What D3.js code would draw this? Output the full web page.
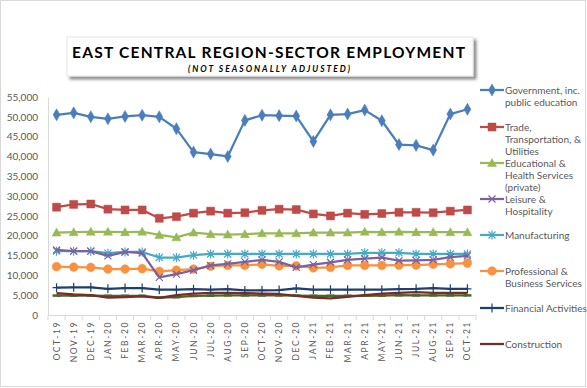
<!DOCTYPE html>
<html>
<head>
<meta charset="utf-8">
<script src="https://cdn.jsdelivr.net/npm/d3@7"></script>
<style>
  body { margin: 0; background: #fff; }
  text { font-family: Lato, "Open Sans", sans-serif; }
</style>
</head>
<body>
<svg id="chart" width="587" height="388"></svg>
<script>
var months = ["OCT-19", "NOV-19", "DEC-19", "JAN-20", "FEB-20", "MAR-20", "APR-20", "MAY-20", "JUN-20",
  "JUL-20", "AUG-20", "SEP-20", "OCT-20", "NOV-20", "DEC-20", "JAN-21", "FEB-21", "MAR-21", "APR-21",
  "MAY-21", "JUN-21", "JUL-21", "AUG-21", "SEP-21", "OCT-21"]

var government = [50500, 51000, 50000, 49500, 50100, 50400, 50000, 47000, 41100, 40600, 40000, 49100, 50400,
  50300, 50200, 43800, 50500, 50700, 51700, 49000, 43000, 42800, 41600, 50700, 51900]
var trade = [27200, 27900, 28000, 26700, 26500, 26500, 24400, 24800, 25700, 26200, 25700, 25800, 26400,
  26700, 26600, 25500, 25000, 25700, 25400, 25600, 25900, 25900, 25800, 26200, 26500]
var education = [20800, 20900, 21000, 21000, 20900, 21000, 20200, 19600, 20800, 20400, 20300, 20400, 20600,
  20600, 20600, 20800, 20800, 20800, 21000, 20900, 21000, 20900, 20900, 20900, 20900]
var leisure = [16400, 16100, 16100, 14900, 15900, 15600, 9500, 10300, 11300, 12500, 12900, 13400, 13900,
  13400, 12000, 12700, 13300, 13900, 14200, 14500, 13700, 13800, 13900, 14600, 14900]
var manufacturing = [16100, 16100, 16100, 15600, 15900, 15900, 14500, 14500, 15100, 15400, 15400, 15400, 15400,
  15400, 15400, 15400, 15400, 15400, 15700, 15700, 15700, 15400, 15400, 15400, 15400]
var professional = [12200, 12100, 12000, 11600, 11600, 11700, 11000, 11300, 11600, 12300, 12500, 12500, 12800,
  12400, 12400, 11900, 12000, 12500, 12500, 12500, 12600, 12600, 12800, 12900, 13100]
var financial = [6900, 7000, 7000, 6600, 6800, 6800, 6400, 6400, 6500, 6400, 6500, 6200, 6200,
  6300, 6700, 6400, 6400, 6400, 6400, 6400, 6500, 6600, 6800, 6600, 6600]
var construction = [5500, 5200, 5000, 4400, 4500, 4700, 4300, 5000, 5400, 5600, 5600, 5500, 5400,
  5300, 4800, 4400, 4200, 4600, 5000, 5400, 5600, 5800, 5600, 5600, 5600]
var other = [4900, 4900, 4900, 4850, 4850, 4850, 4400, 4500, 4800, 4900, 4950, 4950, 4950,
  4950, 4900, 4850, 4850, 4850, 4850, 4900, 5000, 4950, 4950, 4950, 4950]

var yTicks = [0, 5000, 10000, 15000, 20000, 25000, 30000, 35000, 40000, 45000, 50000, 55000]

var series = [
  { name: ["Government, inc.", "public education"], values: government, color: "#4a7ebb", marker: "diamond" },
  { name: ["Trade,", "Transportation, &", "Utilities"], values: trade, color: "#be4b48", marker: "square" },
  { name: ["Educational &", "Health Services", "(private)"], values: education, color: "#98b954", marker: "triangle" },
  { name: ["Leisure &", "Hospitality"], values: leisure, color: "#7d60a0", marker: "x" },
  { name: ["Manufacturing"], values: manufacturing, color: "#46aac5", marker: "star" },
  { name: ["Professional &", "Business Services"], values: professional, color: "#f69240", marker: "circle" },
  { name: ["Financial Activities"], values: financial, color: "#1f3f6e", marker: "plus" },
  { name: ["Construction"], values: construction, color: "#772c2a", marker: "none" },
  { name: null, values: other, color: "#4f6228", marker: "dash" }
]

var svg = d3.select("#chart")

svg.append("rect")
  .attr("x", 0.5).attr("y", 0.5)
  .attr("width", 585).attr("height", 386)
  .attr("fill", "#fff")
  .attr("stroke", "#d9d9d9")

var defs = svg.append("defs")
var shadow = defs.append("filter").attr("id", "shadow")
  .attr("x", "-5%").attr("y", "-20%").attr("width", "115%").attr("height", "160%")
shadow.append("feDropShadow")
  .attr("dx", 3).attr("dy", 3).attr("stdDeviation", 1.8)
  .attr("flood-color", "#000").attr("flood-opacity", 0.45)

// title box
svg.append("rect")
  .attr("x", 67).attr("y", 37)
  .attr("width", 406).attr("height", 39)
  .attr("fill", "#fff")
  .attr("stroke", "#e6e6e6")
  .attr("filter", "url(#shadow)")

svg.append("text")
  .attr("x", 72).attr("y", 58)
  .attr("textLength", 393)
  .attr("lengthAdjust", "spacing")
  .style("font-size", "15.5px")
  .style("font-weight", "bold")
  .attr("fill", "#000")
  .text("EAST CENTRAL REGION-SECTOR EMPLOYMENT")

svg.append("text")
  .attr("x", 188).attr("y", 72)
  .attr("textLength", 162)
  .attr("lengthAdjust", "spacing")
  .style("font-size", "8.5px")
  .style("font-weight", "bold")
  .style("font-style", "italic")
  .attr("fill", "#000")
  .text("(NOT SEASONALLY ADJUSTED)")

var x = d3.scaleBand()
  .domain(months)
  .range([48, 476])
  .padding(0)

var y = d3.scaleLinear()
  .domain([0, 55000])
  .range([315, 97])

function cx(i) {
  return x(months[i]) + x.bandwidth() / 2
}

// y axis
var yAxis = svg.append("g")
  .attr("transform", "translate(48,0)")
  .call(d3.axisLeft(y).tickValues(yTicks).tickSize(0).tickPadding(10).tickFormat(d3.format(",")))
yAxis.select(".domain").attr("stroke", "#d9d9d9")
yAxis.selectAll("text")
  .attr("fill", "#595959")
  .style("font-size", "10px")

// x axis
var xAxis = svg.append("g")
  .attr("transform", "translate(0,315)")
  .call(d3.axisBottom(x).tickSize(0).tickFormat(""))
xAxis.select(".domain").attr("stroke", "#d9d9d9")

svg.append("g")
  .selectAll("line")
  .data(months.concat([null]))
  .enter()
  .append("line")
  .attr("x1", function (d, i) { return 48 + i * x.bandwidth() })
  .attr("x2", function (d, i) { return 48 + i * x.bandwidth() })
  .attr("y1", 315)
  .attr("y2", 320)
  .attr("stroke", "#d9d9d9")

svg.append("g")
  .selectAll("text")
  .data(months)
  .enter()
  .append("text")
  .attr("transform", function (d, i) { return "translate(" + (cx(i) + 3) + ",321) rotate(-90)" })
  .attr("text-anchor", "end")
  .style("font-size", "8.5px")
  .style("letter-spacing", "1.6px")
  .attr("fill", "#595959")
  .text(function (d) { return d })

var line = d3.line()
  .x(function (d, i) { return cx(i) })
  .y(function (d) { return y(d) })

function markerPath(type) {
  switch (type) {
    case "diamond": return d3.symbol(d3.symbolDiamond, 42)()
    case "square": return "M-4,-4H4V4H-4Z"
    case "triangle": return "M0,-4.5L4.5,3.5H-4.5Z"
    case "circle": return d3.symbol(d3.symbolCircle, 60)()
    case "x": return "M-3.5,-3.5L3.5,3.5M-3.5,3.5L3.5,-3.5"
    case "star": return "M-3.5,-3.5L3.5,3.5M-3.5,3.5L3.5,-3.5M0,-4.5V4.5"
    case "plus": return "M0,-4.5V4.5M-4,0H4"
    case "dash": return "M-4,0H4"
    default: return null
  }
}

function filled(type) {
  return type == "diamond" || type == "square" || type == "triangle" || type == "circle"
}

// draw from the bottom series up so the top lines sit over the lower ones
series.slice().reverse().forEach(function (s) {
  var g = svg.append("g")
  g.append("path")
    .datum(s.values)
    .attr("d", line)
    .attr("fill", "none")
    .attr("stroke", s.color)
    .attr("stroke-width", 2.25)
    .attr("stroke-linejoin", "round")

  var p = markerPath(s.marker)
  if (p) {
    g.selectAll(".mk")
      .data(s.values)
      .enter()
      .append("path")
      .attr("class", "mk")
      .attr("transform", function (d, i) { return "translate(" + cx(i) + "," + y(d) + ")" })
      .attr("d", p)
      .attr("fill", filled(s.marker) ? s.color : "none")
      .attr("stroke", s.color)
      .attr("stroke-width", s.marker == "dash" ? 2.5 : (filled(s.marker) ? 0.5 : 1.2))
  }
})

// legend
var legendY = [90, 127, 163, 199, 235, 271, 308, 344]
var legend = svg.append("g")
series.filter(function (s) { return s.name }).forEach(function (s, i) {
  var ly = legendY[i]
  legend.append("line")
    .attr("x1", 480).attr("x2", 504)
    .attr("y1", ly).attr("y2", ly)
    .attr("stroke", s.color)
    .attr("stroke-width", 2.25)
  var p = markerPath(s.marker)
  if (p) {
    legend.append("path")
      .attr("transform", "translate(492," + ly + ")")
      .attr("d", p)
      .attr("fill", filled(s.marker) ? s.color : "none")
      .attr("stroke", s.color)
      .attr("stroke-width", filled(s.marker) ? 0.5 : 1.2)
  }
  var t = legend.append("text")
    .attr("x", 505)
    .attr("y", ly + 3.5)
    .style("font-size", "10px")
    .attr("fill", "#595959")
  s.name.forEach(function (n, j) {
    t.append("tspan")
      .attr("x", 505)
      .attr("dy", j == 0 ? 0 : 12.3)
      .text(n)
  })
})
</script>
</body>
</html>
